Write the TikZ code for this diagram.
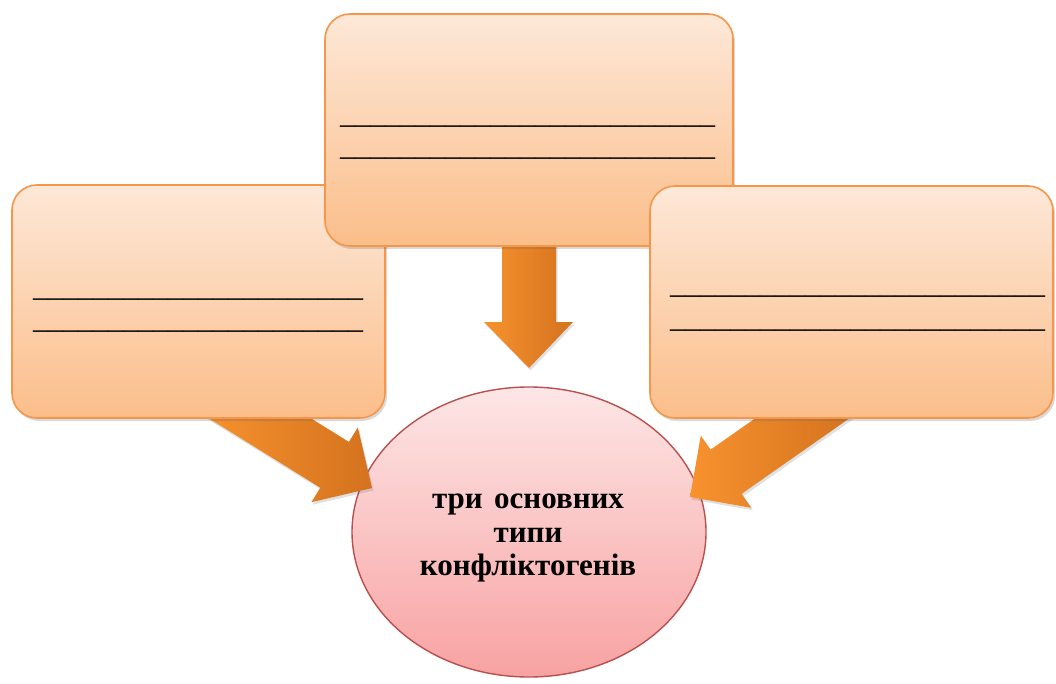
\documentclass[tikz,border=0pt]{standalone}
\usepackage{fontspec}
\setmainfont{Liberation Serif}
\usetikzlibrary{shapes.geometric,shadows}
\definecolor{boxtop}{HTML}{FDE8D8}
\definecolor{boxbot}{HTML}{FBBE8A}
\definecolor{boxline}{HTML}{F5964A}
\definecolor{circtop}{HTML}{FDE6E6}
\definecolor{circbot}{HTML}{F8A2A2}
\definecolor{circline}{HTML}{B8504E}
\definecolor{arrlight}{HTML}{F7922E}
\definecolor{arrdark}{HTML}{D4721E}
\tikzset{
  box/.style={rectangle, rounded corners=25pt, draw=boxline, line width=1.6pt,
    top color=boxtop, bottom color=boxbot, inner sep=0pt,
    drop shadow={shadow xshift=2pt, shadow yshift=-3pt, opacity=0.25, fill=black!60}},
  blank/.style={anchor=base west, inner sep=0pt, font=\fontsize{30}{30}\selectfont},
  bigarrow/.style={left color=arrlight, right color=arrdark,
    drop shadow={shadow xshift=1.5pt, shadow yshift=-2.5pt, opacity=0.2, fill=black!60}},
  centre/.style={ellipse, draw=circline, line width=1.4pt, top color=circtop, bottom color=circbot,
    inner sep=0pt},
  label/.style={inner sep=0pt, align=center, font=\bfseries\fontsize{31}{33.5}\selectfont}
}
\begin{document}
\begin{tikzpicture}[x=1pt,y=-1pt]
\useasboundingbox (0,0) rectangle (1056,684);
% centre ellipse
\node[centre, minimum width=354pt, minimum height=290pt] (C) at (529,532) {};
\node[label] (CT) at (528,538) {три\hspace{0.12em} основних\\типи\\конфліктогенів};
% arrows
\coordinate (tD) at (529,368);
\coordinate (tL) at (372,488);
\coordinate (tR) at (690,497);
\path[bigarrow] (502,225) -- (556,225) -- (556,322) -- (573,322) -- (tD) -- (484,322) -- (502,322) -- cycle;
\path[bigarrow] (230,368) -- (348.9,441.9) -- (357.8,427.4) -- (tL) -- (311.4,502.2) -- (320.3,487.7) -- (201.4,413.8) -- cycle;
\path[bigarrow] (856.4,413.4) -- (741.6,493.8) -- (751.4,507.8) -- (tR) -- (700.8,435.6) -- (710.6,449.6) -- (825.4,369.2) -- cycle;
% boxes
\node[box, minimum width=373pt, minimum height=233pt] (L) at (198.5,301.5) {};
\node[box, minimum width=408pt, minimum height=232pt] (T) at (529,130) {};
\node[box, minimum width=403pt, minimum height=232pt] (R) at (851.5,302) {};
% blank lines
\node[blank] (T1) at (340,124) {\_\_\_\_\_\_\_\_\_\_\_\_\_\_\_\_\_\_\_\_\_\_\_\_\_};
\node[blank] (T2) at (340,156) {\_\_\_\_\_\_\_\_\_\_\_\_\_\_\_\_\_\_\_\_\_\_\_\_\_};
\node[blank] (L1) at (33,296) {\_\_\_\_\_\_\_\_\_\_\_\_\_\_\_\_\_\_\_\_\_\_};
\node[blank] (L2) at (33,328) {\_\_\_\_\_\_\_\_\_\_\_\_\_\_\_\_\_\_\_\_\_\_};
\node[blank] (R1) at (670,294) {\_\_\_\_\_\_\_\_\_\_\_\_\_\_\_\_\_\_\_\_\_\_\_\_\_};
\node[blank] (R2) at (670,327) {\_\_\_\_\_\_\_\_\_\_\_\_\_\_\_\_\_\_\_\_\_\_\_\_\_};
\end{tikzpicture}
\end{document}
